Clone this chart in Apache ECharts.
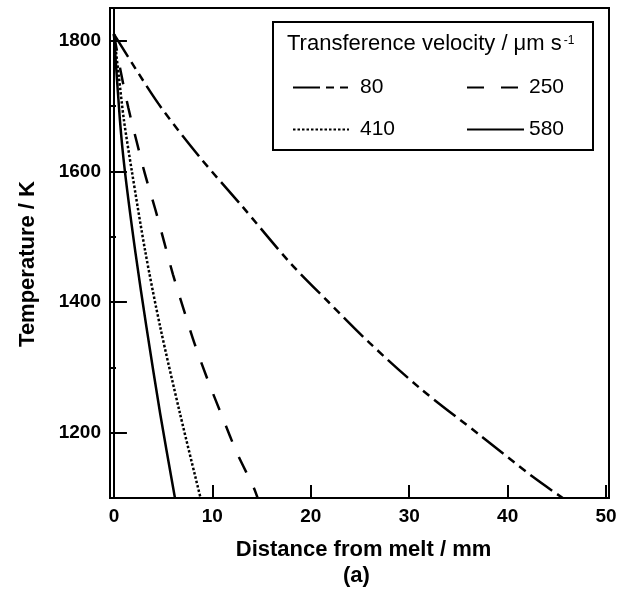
<!DOCTYPE html>
<html>
<head>
<meta charset="utf-8">
<script src="https://cdn.jsdelivr.net/npm/echarts@6/dist/echarts.min.js"></script>
<style>
html, body { margin: 0; padding: 0; background: #fff; }
#chart { width: 631px; height: 596px; }
</style>
</head>
<body>
<div id="chart"></div>
<script>
// 读图得到的曲线数据 (距离 mm, 温度 K)
var dist80 = [0, 4.5, 8.7, 13, 17.9, 21.8, 26, 31.1, 37.2, 42.6, 45.6];
var temp80 = [1810, 1704, 1622, 1547, 1460, 1400, 1337, 1268, 1196, 1132, 1100];

var dist250 = [0, 0.7, 1.45, 2.3, 3.15, 4.2, 5.1, 6.0, 7.1, 8.2, 9.6, 11.1, 12.5, 14.2, 14.6];
var temp250 = [1810, 1752, 1698, 1646, 1596, 1542, 1492, 1442, 1388, 1336, 1278, 1221, 1169, 1116, 1100];

var dist410 = [0, 0.5, 1.0, 1.8, 3.2, 4.7, 6.7, 8.8];
var temp410 = [1810, 1745, 1680, 1602, 1476, 1362, 1230, 1100];

var dist580 = [0, 0.6, 1.1, 2.2, 3.3, 4.7, 6.2];
var temp580 = [1810, 1680, 1602, 1474, 1362, 1229, 1100];

var xTicks = [0, 10, 20, 30, 40, 50];
var yTicks = [1200, 1400, 1600, 1800];

var zip = function (xs, ys) {
    return xs.map(function (x, i) { return [x, ys[i]]; });
};

var init_chart = function () {
    var myChart = echarts.init(document.getElementById('chart'));
    var font = 'Liberation Sans, Arial, sans-serif';

    var option = {
        animation: false,
        backgroundColor: '#fff',
        title: {
            text: '{a|Transference velocity / μm s}{sup|-1}',
            left: 287,
            top: 33,
            padding: 0,
            textStyle: {
                rich: {
                    a: { fontFamily: font, fontSize: 22, fontWeight: 'normal', color: '#000' },
                    sup: { fontFamily: font, fontSize: 12, fontWeight: 'normal', color: '#000', padding: [0, 0, 7, 2] }
                }
            }
        },
        legend: [{
            data: ['80', '410'],
            orient: 'vertical',
            left: 292,
            top: 77,
            padding: 0,
            itemWidth: 56,
            itemHeight: 14,
            itemGap: 21,
            itemStyle: { opacity: 0 },
            textStyle: { fontFamily: font, fontSize: 21, color: '#000', lineHeight: 21, padding: [0, 0, 0, 6] }
        }, {
            data: ['250', '580'],
            orient: 'vertical',
            left: 466,
            top: 77,
            padding: 0,
            itemWidth: 57,
            itemHeight: 14,
            itemGap: 21,
            itemStyle: { opacity: 0 },
            textStyle: { fontFamily: font, fontSize: 21, color: '#000', lineHeight: 21 }
        }],
        graphic: [{
            type: 'rect',
            shape: { x: 273, y: 22, width: 320, height: 128 },
            style: { fill: '#fff', stroke: '#000', lineWidth: 2 },
            z: 3
        }, {
            type: 'text',
            left: 343,
            top: 565,
            style: { text: '(a)', font: 'bold 22px ' + font, fill: '#000' }
        }],
        grid: {
            left: 110,
            right: 22,
            top: 8,
            bottom: 98,
            show: true,
            borderColor: '#000',
            borderWidth: 2
        },
        xAxis: {
            type: 'value',
            min: -0.4,
            max: 50.3,
            minInterval: 10,
            maxInterval: 10,
            name: 'Distance from melt / mm',
            nameLocation: 'middle',
            nameGap: 41,
            nameTextStyle: { fontFamily: font, fontSize: 22, fontWeight: 'bold', color: '#000', padding: [0, 0, 0, 8] },
            axisLine: { lineStyle: { color: '#000', width: 2 } },
            axisTick: { inside: true, length: 13, lineStyle: { color: '#000', width: 2 } },
            axisLabel: {
                margin: 9,
                fontFamily: font, fontSize: 19, fontWeight: 'bold', color: '#000',
                formatter: function (v) { return xTicks.indexOf(v) >= 0 ? String(v) : ''; }
            },
            splitLine: { show: false }
        },
        yAxis: [{
            type: 'value',
            min: 1100,
            max: 1850,
            minInterval: 200,
            maxInterval: 200,
            name: 'Temperature / K',
            nameLocation: 'middle',
            nameGap: 71,
            nameTextStyle: { fontFamily: font, fontSize: 22, fontWeight: 'bold', color: '#000', padding: [0, 22, 0, 0] },
            axisLine: { lineStyle: { color: '#000', width: 2 } },
            axisTick: { inside: true, length: 13, lineStyle: { color: '#000', width: 2 } },
            axisLabel: {
                margin: 9,
                fontFamily: font, fontSize: 19, fontWeight: 'bold', color: '#000',
                formatter: function (v) { return yTicks.indexOf(v) >= 0 ? String(v) : ''; }
            },
            splitLine: { show: false }
        }, {
            // 次刻度
            type: 'value',
            position: 'left',
            min: 1100,
            max: 1850,
            minInterval: 100,
            maxInterval: 100,
            axisLine: { show: false },
            axisTick: { inside: true, length: 6, lineStyle: { color: '#000', width: 2 } },
            axisLabel: { show: false },
            splitLine: { show: false }
        }],
        series: [{
            name: '80',
            type: 'line',
            data: zip(dist80, temp80),
            smooth: 0.3,
            symbol: 'none',
            lineStyle: { color: '#000', width: 2.5, type: [27, 6, 8, 6, 8, 6] }
        }, {
            name: '250',
            type: 'line',
            data: zip(dist250, temp250),
            smooth: 0.3,
            symbol: 'none',
            lineStyle: { color: '#000', width: 2.5, type: [17, 17] }
        }, {
            name: '410',
            type: 'line',
            data: zip(dist410, temp410),
            smooth: 0.3,
            symbol: 'none',
            lineStyle: { color: '#000', width: 2.5, type: [2.5, 2] }
        }, {
            name: '580',
            type: 'line',
            data: zip(dist580, temp580),
            smooth: 0.3,
            symbol: 'none',
            lineStyle: { color: '#000', width: 2.5 }
        }]
    };

    myChart.setOption(option);
};

init_chart();
</script>
</body>
</html>
